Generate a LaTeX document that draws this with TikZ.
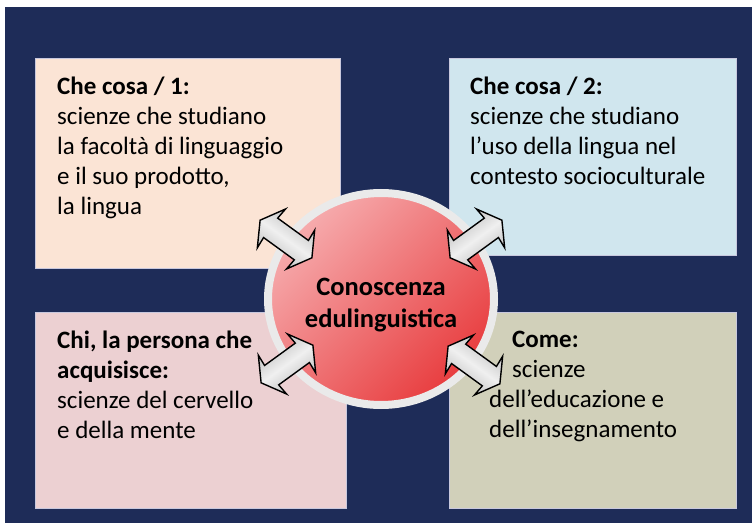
\documentclass[tikz,border=0pt]{standalone}
\usepackage{fontspec}
\setmainfont{Carlito}
\usetikzlibrary{shapes.geometric, positioning, calc}
\definecolor{navy}{RGB}{30, 44, 88}
\definecolor{panelrim}{RGB}{200, 200, 222}
\definecolor{peach}{RGB}{251, 228, 213}
\definecolor{skyblue}{RGB}{208, 230, 238}
\definecolor{rosepink}{RGB}{236, 208, 210}
\definecolor{khaki}{RGB}{209, 208, 186}
\definecolor{ringgrey}{RGB}{234, 234, 234}
\definecolor{hubtop}{RGB}{246, 172, 174}
\definecolor{hubbottom}{RGB}{232, 60, 62}

\tikzset{
  pics/dblarrow/.style={code={
    \path[link, rotate=#1, shading angle=#1]
      (-32,0) -- (-18,24) -- (-19,12) -- (19,12) -- (18,24) -- (32,0)
      -- (18,-24) -- (19,-12) -- (-19,-12) -- (-18,-24) -- cycle;
  }}
}

\begin{document}
\begin{tikzpicture}[
    x=1pt, y=1pt,
    panel/.style={rectangle, draw=panelrim, line width=0.8pt,
                  anchor=north west, inner sep=0pt},
    txt/.style={anchor=north west, inner sep=0pt, align=left,
                font=\fontsize{25}{30}\selectfont, execute at begin node=\strut},
    hubstyle/.style={ellipse, draw=ringgrey, line width=8pt,
                     minimum width=226pt, minimum height=212pt, inner sep=0pt,
                     top color=hubtop, bottom color=hubbottom, shading angle=45,
                     align=center, font=\bfseries\fontsize{26.5}{32}\selectfont},
    link/.style={draw=black, line width=1.4pt, line join=miter,
                 top color=gray!55, bottom color=gray!55, middle color=gray!12}
]
\useasboundingbox (0,0) rectangle (752,523);
\fill[navy] (5,0) rectangle (752,516);

\node[panel, fill=peach,    minimum width=305pt, minimum height=210pt] (whatone) at (35,465)  {};
\node[panel, fill=skyblue,  minimum width=287pt, minimum height=197pt] (whattwo) at (449,465) {};
\node[panel, fill=rosepink, minimum width=311pt, minimum height=196pt] (who)     at (35,211)  {};
\node[panel, fill=khaki,    minimum width=287pt, minimum height=196pt] (how)     at (449,211) {};

\node[txt, below right=19pt and 22pt of whatone.north west] (whatonetxt)
    {\textbf{Che cosa / 1:}\\scienze che studiano\\la facoltà di linguaggio\\e il suo prodotto,\\la lingua};
\node[txt, below right=19pt and 21pt of whattwo.north west] (whattwotxt)
    {\textbf{Che cosa / 2:}\\scienze che studiano\\l’uso della lingua nel\\contesto socioculturale};
\node[txt, below right=19pt and 22pt of who.north west] (whotxt)
    {\textbf{Chi, la persona che}\\\textbf{acquisisce:}\\scienze del cervello\\e della mente};
\node[txt, below right=19pt and 40pt of how.north west] (howtxt)
    {\hspace*{23pt}\textbf{Come:}\\\hspace*{23pt}scienze\\dell’educazione e\\dell’insegnamento};

\node[hubstyle] (hub) at (381,224) {\rule{0pt}{0pt}\\[-3pt]Conoscenza\\edulinguistica};

\pic (linkwhatone) at ($(hub)+(-95,60)$)  {dblarrow=144};
\pic (linkwhattwo) at ($(hub)+(95,60)$)   {dblarrow=36};
\pic (linkwho)     at ($(hub)+(-94,-65)$) {dblarrow=36};
\pic (linkhow)     at ($(hub)+(93,-66)$)  {dblarrow=144};
\end{tikzpicture}
\end{document}
